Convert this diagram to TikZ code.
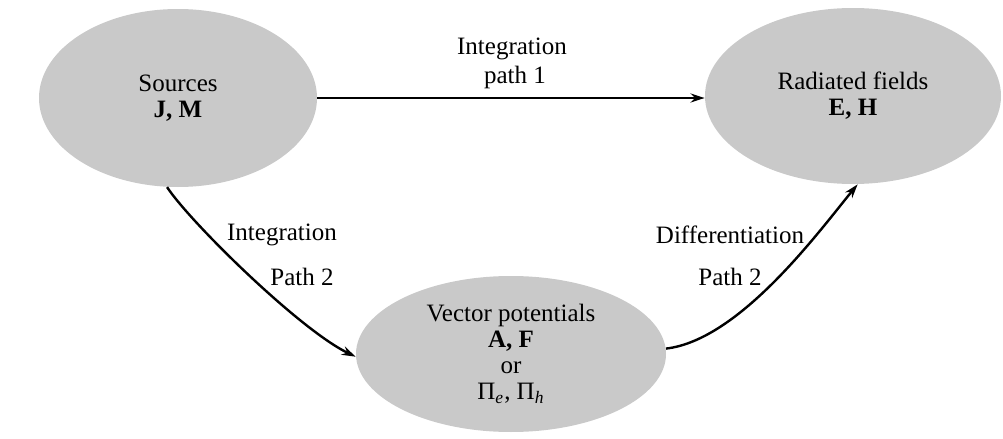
\documentclass[tikz,border=0pt]{standalone}
\usepackage{fontspec}
\setmainfont{Liberation Serif}
\usetikzlibrary{shapes.geometric,arrows.meta}
\definecolor{ellfill}{gray}{0.79}
\tikzset{
  blob/.style={ellipse, fill=ellfill, draw=none, inner sep=0pt, align=center,
    font=\fontsize{12.5}{13}\selectfont},
  lbl/.style={align=center, font=\fontsize{12.5}{13}\selectfont, inner sep=1pt},
  conn/.style={line width=1.2pt, -{Stealth[length=7pt,width=4.5pt]}}
}
\begin{document}
\begin{tikzpicture}[x=0.5pt,y=-0.5pt]
\useasboundingbox (0,0) rectangle (1003,439);
\node[blob, minimum width=139pt, minimum height=89pt] (src) at (178,98)
  {Sources\\\textbf{J, M}};
\node[blob, minimum width=148pt, minimum height=88pt] (rad) at (853,96)
  {Radiated fields\\\textbf{E, H}};
\node[blob, minimum width=155pt, minimum height=78pt] (vec) at (511,354)
  {Vector potentials\\\textbf{A, F}\\or\\Π\textsubscript{\textit{e}}, Π\textsubscript{\textit{h}}};
\draw[conn] (src.east) -- (src.east -| rad.west);
\draw[conn] (src.-97) .. controls (190,222) and (300,330) .. (vec.181);
\draw[conn] (vec.2) .. controls (740,340) and (820,230) .. (rad.-87);
\node[lbl] (l1a) at (512,49) {Integration};
\node[lbl] (l1b) at (515,77) {path 1};
\node[lbl] (l2a) at (282,235) {Integration};
\node[lbl] (l2b) at (302,277) {Path 2};
\node[lbl] (l3a) at (730,235) {Differentiation};
\node[lbl] (l3b) at (730,277) {Path 2};
\end{tikzpicture}
\end{document}
